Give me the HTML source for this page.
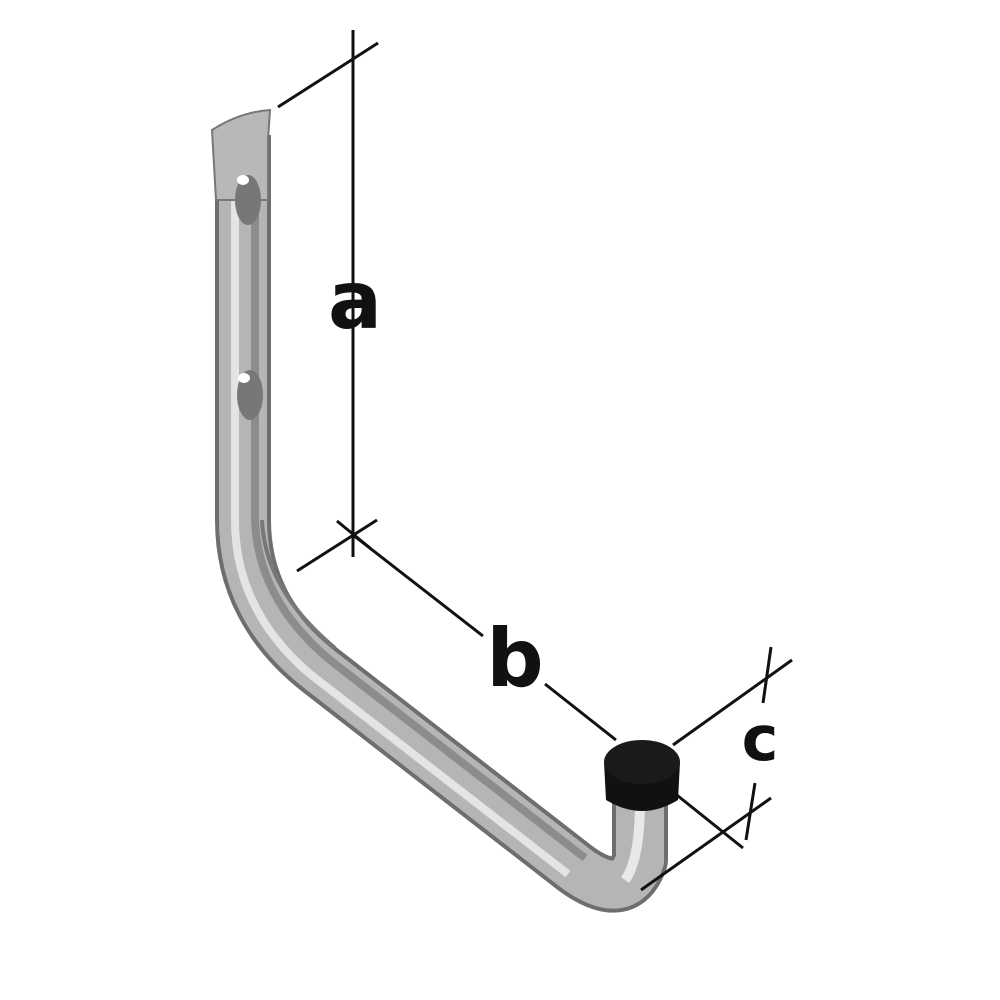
<!DOCTYPE html>
<html><head><meta charset="utf-8"><style>
html,body{margin:0;padding:0;background:#fff;}
svg{display:block}
</style></head><body>
<svg width="1000" height="1000" viewBox="0 0 1000 1000" xmlns="http://www.w3.org/2000/svg">
<!-- hook body -->
<path d="M243 135 L243 520 Q243 610 320 670 L575 868 Q625 905 640 860 L640 790" fill="none" stroke="#6e6e6e" stroke-width="56" stroke-linejoin="round"/>
<path d="M243 135 L243 520 Q243 610 320 670 L575 868 Q625 905 640 860 L640 790" fill="none" stroke="#b5b5b5" stroke-width="48"/>
<path d="M235 135 L235 520 Q235 610 310 674 L568 874" fill="none" stroke="#e4e4e4" stroke-width="8"/>
<path d="M255 200 L255 520 Q258 600 330 660 L585 858" fill="none" stroke="#8c8c8c" stroke-width="8"/>
<path d="M262 520 Q265 590 335 648" fill="none" stroke="#777" stroke-width="4"/>
<path d="M625 880 Q640 860 640 800" fill="none" stroke="#e8e8e8" stroke-width="10"/>
<!-- top plate -->
<path d="M212 130 Q240 112 270 110 L268 140 L268 200 L216 200 Z" fill="#b8b8b8" stroke="#777" stroke-width="2"/>
<ellipse cx="248" cy="200" rx="13" ry="25" fill="#777"/>
<ellipse cx="243" cy="180" rx="6" ry="5" fill="#fff"/>
<ellipse cx="250" cy="395" rx="13" ry="25" fill="#777"/>
<ellipse cx="244" cy="378" rx="6" ry="5" fill="#fff"/>
<!-- cap -->
<path d="M604 762 L606 800 Q642 822 678 800 L680 762 Z" fill="#111"/>
<ellipse cx="642" cy="762" rx="38" ry="22" fill="#1a1a1a"/>
<!-- dimension lines -->
<g stroke="#111" stroke-width="3" fill="none">
<line x1="353" y1="30" x2="353" y2="557"/>
<line x1="278" y1="107" x2="378" y2="43"/>
<line x1="297" y1="571" x2="377" y2="520"/>
<line x1="337" y1="521" x2="370" y2="548"/>
<line x1="353" y1="535" x2="483" y2="636"/>
<line x1="545" y1="684" x2="616" y2="740"/>
<line x1="673" y1="745" x2="792" y2="660"/>
<line x1="771" y1="647" x2="763" y2="703"/>
<line x1="641" y1="890" x2="771" y2="798"/>
<line x1="755" y1="783" x2="746" y2="840"/>
<line x1="673" y1="792" x2="743" y2="848"/>
</g>
<g font-family="DejaVu Sans, sans-serif" font-weight="bold" fill="#111">
<text x="355" y="328" font-size="80" text-anchor="middle">a</text>
<text x="515" y="686" font-size="80" text-anchor="middle">b</text>
<text x="760" y="760" font-size="62" text-anchor="middle">c</text>
</g>
</svg>
</body></html>
